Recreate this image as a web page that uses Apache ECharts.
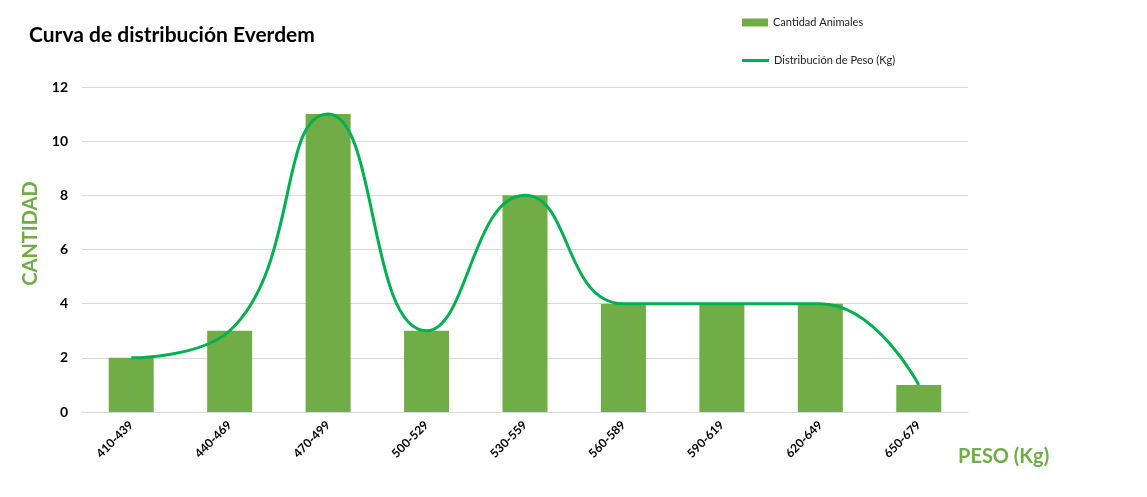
<!DOCTYPE html>
<html><head><meta charset="utf-8">
<script src="https://cdn.jsdelivr.net/npm/echarts@6/dist/echarts.min.js"></script>
<style>html,body{margin:0;padding:0;background:#fff}#c{width:1147px;height:497px}</style>
</head><body><div id="c"></div>
<script>
const categories = ['410-439','440-469','470-499','500-529','530-559','560-589','590-619','620-649','650-679'];
const cantidadAnimales = [2,3,11,3,8,4,4,4,1];
const distribucionPeso = [2,3,11,3,8,4,4,4,1];
const yTicks = {min:0, max:12, interval:2};
const F = 'Lato, "Open Sans", sans-serif';
const chart = echarts.init(document.getElementById('c'), null, {renderer:'canvas'});
chart.setOption({
  animation:false,
  backgroundColor:'#fff',
  title:{text:'Curva de distribución Everdem', left:24, top:20,
    textStyle:{fontFamily:F, fontWeight:'bold', fontSize:21, color:'#000'}},
  legend:[
    {left:737, top:12, itemWidth:26, itemHeight:8, itemGap:0,
     textStyle:{fontFamily:F, fontSize:11, color:'#222'},
     data:[{name:'Cantidad Animales', icon:'rect'}]},
    {left:737, top:50, itemWidth:27, itemHeight:3, itemGap:0,
     textStyle:{fontFamily:F, fontSize:11, color:'#222'},
     data:[{name:'Distribución de Peso (Kg)', icon:'rect'}]}
  ],
  grid:{left:82, right:179, top:87, bottom:85, outerBoundsMode:'none', containLabel:false},
  xAxis:{type:'category', data:categories,
    name:'PESO (Kg)', nameLocation:'end', nameGap:-10,
    nameTextStyle:{fontFamily:F, fontWeight:'bold', fontSize:20, color:'#70AD47', padding:[35,0,0,0], align:'left', verticalAlign:'top'},
    axisLine:{lineStyle:{color:'#d9d9d9'}}, axisTick:{show:false},
    axisLabel:{rotate:45, fontFamily:F, fontSize:12, fontWeight:'bold', color:'#000', margin:11, interval:0}},
  yAxis:{type:'value', min:yTicks.min, max:yTicks.max, interval:yTicks.interval,
    name:'CANTIDAD', nameLocation:'middle', nameGap:41, nameRotate:90,
    nameTextStyle:{fontFamily:F, fontWeight:'bold', fontSize:20, color:'#70AD47', padding:[0,0,0,32]},
    axisLine:{show:false}, axisTick:{show:false},
    axisLabel:{fontFamily:F, fontWeight:'bold', fontSize:14, color:'#000', margin:14},
    splitLine:{lineStyle:{color:'#d9d9d9'}}},
  series:[
    {name:'Cantidad Animales', type:'bar', data:cantidadAnimales, barWidth:45,
      itemStyle:{color:'#70AD47'}},
    {name:'Distribución de Peso (Kg)', type:'line', data:distribucionPeso, smooth:0.5,
      showSymbol:false, symbol:'none', lineStyle:{color:'#00B050', width:3}, itemStyle:{color:'#00B050'}}
  ]
});
</script></body></html>
